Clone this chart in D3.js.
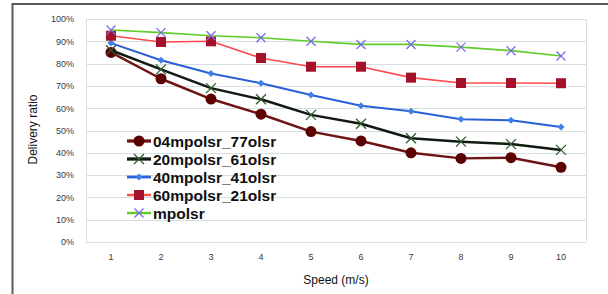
<!DOCTYPE html>
<html>
<head>
<meta charset="utf-8">
<script src="https://cdn.jsdelivr.net/npm/d3@7"></script>
<style>
  body { margin: 0; background: #fff; }
  svg { display: block; font-family: "Liberation Sans", Arial, sans-serif; }
</style>
</head>
<body>
<div id="chart"></div>
<script>
'use strict';

const speeds = [1, 2, 3, 4, 5, 6, 7, 8, 9, 10];
const yTicks = [0, 10, 20, 30, 40, 50, 60, 70, 80, 90, 100];
const seriesNames = ["04mpolsr_77olsr", "20mpolsr_61olsr", "40mpolsr_41olsr", "60mpolsr_21olsr", "mpolsr"];
const s04 = [85, 73.2, 64.1, 57.3, 49.5, 45.3, 40, 37.5, 37.8, 33.5];
const s20 = [86, 77.4, 69, 64, 57, 53, 46.5, 45, 43.9, 41.3];
const s40 = [89.2, 81.5, 75.6, 71.2, 65.9, 61.1, 58.6, 55, 54.6, 51.6];
const s60 = [92.5, 89.7, 90, 82.5, 78.6, 78.6, 73.7, 71.3, 71.3, 71.2];
const sMp = [95.1, 93.9, 92.5, 91.6, 90, 88.6, 88.6, 87.4, 85.8, 83.4];

const styles = [
    { line: "#6e1414", width: 2.5, marker: "circle", fill: "#5c0000", stroke: "#5c0000", size: 5.5 },
    { line: "#101a10", width: 2.5, marker: "x", fill: "none", stroke: "#2e5a2e", size: 5 },
    { line: "#2a5fd8", width: 2, marker: "diamond", fill: "#3d80e6", stroke: "#3d80e6", size: 3.5 },
    { line: "#ff4a4a", width: 1.6, marker: "square", fill: "#a3122a", stroke: "#a3122a", size: 5 },
    { line: "#5fcc2a", width: 1.6, marker: "x", fill: "none", stroke: "#7a6ae6", size: 4.5 }
];
const allSeries = [s04, s20, s40, s60, sMp];

const W = 608, H = 294;
const margin = { top: 19, right: 22, bottom: 52, left: 86 };
const width = W - margin.left - margin.right,
    height = H - margin.top - margin.bottom;

const svg = d3.select("#chart").append("svg")
    .attr("width", W)
    .attr("height", H);

// outer frame (left + top only)
svg.append("path")
    .attr("d", "M12.5," + H + "V4H" + W)
    .attr("fill", "none")
    .attr("stroke", "#5a5a5a")
    .attr("stroke-width", 2);

const g = svg.append("g")
    .attr("transform", "translate(" + margin.left + "," + margin.top + ")");

const x = d3.scaleBand()
    .domain(speeds)
    .range([0, width]);

const y = d3.scaleLinear()
    .domain([0, 100])
    .range([height, 0]);

// grid
g.selectAll(".grid")
    .data(yTicks)
    .enter().append("line")
    .attr("x1", 0).attr("x2", width)
    .attr("y1", d => Math.round(y(d)) + 0.5)
    .attr("y2", d => Math.round(y(d)) + 0.5)
    .attr("stroke", "#d6dfdf")
    .attr("stroke-width", 1);

g.append("line")
    .attr("x1", 0.5).attr("x2", 0.5).attr("y1", 0).attr("y2", height)
    .attr("stroke", "#d6dfdf");
g.append("line")
    .attr("x1", width + 0.5).attr("x2", width + 0.5).attr("y1", 0).attr("y2", height)
    .attr("stroke", "#d6dfdf");

// axes
let yAxis = d3.axisLeft(y)
    .tickValues(yTicks)
    .tickSize(0)
    .tickPadding(12)
    .tickFormat(d => d + "%");
let gy = g.append("g").call(yAxis);
gy.select(".domain").remove();
gy.selectAll("text")
    .attr("fill", "#333a44")
    .style("font-size", "9px");

let xAxis = d3.axisBottom(x)
    .tickSize(0)
    .tickPadding(12);
let gx = g.append("g")
    .attr("transform", "translate(0," + height + ")")
    .call(xAxis);
gx.select(".domain").remove();
gx.selectAll("text")
    .attr("fill", "#333a44")
    .style("font-size", "9px");

// axis titles
svg.append("text")
    .attr("x", margin.left + width / 2)
    .attr("y", 284)
    .attr("text-anchor", "middle")
    .attr("fill", "#111")
    .style("font-size", "12px")
    .text("Speed (m/s)");

svg.append("text")
    .attr("transform", "translate(37," + (margin.top + height / 2 - 1) + ") rotate(-90)")
    .attr("text-anchor", "middle")
    .attr("fill", "#111")
    .style("font-size", "12px")
    .text("Delivery ratio");

function drawMarker(sel, st) {
    const s = st.size;
    if (st.marker === "circle") {
        sel.append("circle").attr("r", s).attr("fill", st.fill);
    } else if (st.marker === "square") {
        sel.append("rect").attr("x", -s).attr("y", -s).attr("width", 2 * s).attr("height", 2 * s)
            .attr("fill", st.fill);
    } else if (st.marker === "diamond") {
        sel.append("path").attr("d", "M0," + (-s) + "L" + s + ",0L0," + s + "L" + (-s) + ",0Z")
            .attr("fill", st.fill);
    } else {
        sel.append("path").attr("d", "M" + (-s) + "," + (-s) + "L" + s + "," + s + "M" + (-s) + "," + s + "L" + s + "," + (-s))
            .attr("stroke", st.stroke).attr("stroke-width", 1.3).attr("fill", "none");
    }
}

const line = d3.line()
    .x((d, i) => x(speeds[i]) + x.bandwidth() / 2)
    .y(d => y(d));

// draw top series last? Excel draws in series order
allSeries.forEach((vals, k) => {
    const st = styles[k];
    g.append("path")
        .datum(vals)
        .attr("fill", "none")
        .attr("stroke", st.line)
        .attr("stroke-width", st.width)
        .attr("stroke-linejoin", "round")
        .attr("d", line);
    vals.forEach((v, i) => {
        const m = g.append("g")
            .attr("transform", "translate(" + (x(speeds[i]) + x.bandwidth() / 2) + "," + y(v) + ")");
        drawMarker(m, st);
    });
});

// legend
const legend = svg.append("g").attr("transform", "translate(127,141)");
seriesNames.forEach((name, k) => {
    const st = styles[k];
    const row = legend.append("g").attr("transform", "translate(0," + (k * 18) + ")");
    row.append("line")
        .attr("x1", 0).attr("x2", 24).attr("y1", 0).attr("y2", 0)
        .attr("stroke", st.line)
        .attr("stroke-width", st.width + 0.8);
    const m = row.append("g").attr("transform", "translate(12,0)");
    drawMarker(m, st);
    row.append("text")
        .attr("x", 26)
        .attr("y", 5.5)
        .attr("fill", "#111")
        .style("font-size", "15.5px")
        .style("font-weight", "bold")
        .text(name);
});
</script>
</body>
</html>
